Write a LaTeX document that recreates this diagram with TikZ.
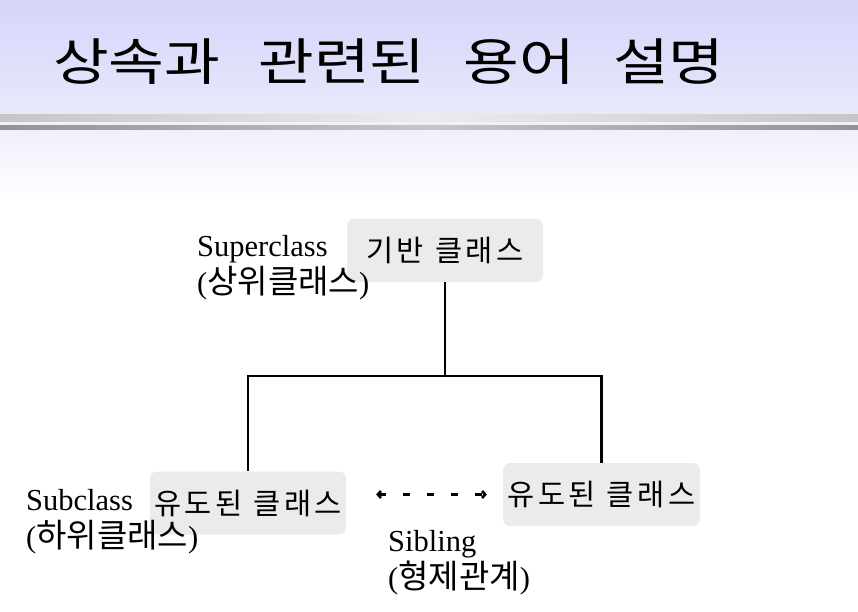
\documentclass[tikz,border=0pt]{standalone}
\usepackage{fontspec}
\setmainfont{Liberation Serif}
\newfontfamily\kr{Noto Sans CJK KR}
\newfontfamily\krwide[FakeStretch=1.2]{Noto Sans CJK KR}
\newfontfamily\krbox[LetterSpace=12]{Noto Sans CJK KR}
\usepackage{tikz}
\usetikzlibrary{arrows.meta,positioning}
\definecolor{headtop}{HTML}{D5D5FA}
\definecolor{headbot}{HTML}{E8E8FC}
\definecolor{fadetop}{HTML}{F0F0FD}
\definecolor{boxgray}{HTML}{EBEBEB}
\newcommand\widesp[1]{\spaceskip#1\relax}
\newcommand\krterm[1]{{\kr\fontsize{33}{37}\selectfont #1}}
\tikzset{
  cls/.style={fill=boxgray,rounded corners=7pt,minimum width=196pt,minimum height=63pt,inner sep=0pt,
    font=\krbox\fontsize{29.5}{30}\selectfont\widesp{11pt}},
  term/.style={align=left,anchor=north west,inner sep=0pt,font=\fontsize{30.5}{37}\selectfont},
  tree/.style={line width=2.4pt},
  sib/.style={line width=2.6pt,dash pattern=on 7pt off 17pt,{Straight Barb[length=3pt,width=7pt]}-{Straight Barb[length=3pt,width=7pt]},
    shorten <=30pt,shorten >=16pt}
}
\begin{document}
\begin{tikzpicture}[x=1pt,y=1pt]
\useasboundingbox (0,0) rectangle (858,611);
% header
\shade[top color=headtop,bottom color=headbot] (0,496) rectangle (858,611);
\fill[fadetop] (0,480) rectangle (858,496);
\shade[left color=gray!45,right color=gray!45,middle color=gray!15] (0,489) rectangle (858,496);
\shade[left color=gray!85,right color=gray!85,middle color=gray!45] (0,480) rectangle (858,485);
\shade[top color=fadetop,bottom color=white] (0,411) rectangle (858,480);
\node[anchor=base west,inner sep=0pt,font=\krwide\fontsize{50.5}{60}\selectfont\widesp{38pt}] (title) at (53,530) {상속과 관련된 용어 설명};

% classes
\node[cls] (base) at (445,360.5) {기반 클래스};
\node[cls] (subL) at (248,108) {유도된 클래스};
\node[cls,minimum width=197pt] (subR) at (601.5,116.5) {유도된 클래스};
\coordinate (fork) at (445,235);
\draw[tree] (base.south) -- (fork);
\draw[tree] (fork) -| (subL.north);
\draw[tree] (fork) -| (subR.north);
\draw[sib] (subL.east |- subR.west) -- (subR.west);

% terms
\node[term] (sup) at (197,376) {Superclass\\(\krterm{상위클래스})};
\node[term] (sub) at (26,122) {Subclass\\(\krterm{하위클래스})};
\node[term] (sibl) at (388,81) {Sibling\\(\krterm{형제관계})};
\end{tikzpicture}
\end{document}
